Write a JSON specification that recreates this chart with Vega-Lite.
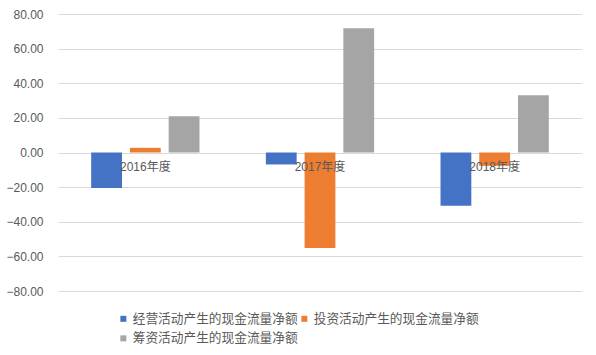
{
  "$schema": "https://vega.github.io/schema/vega-lite/v6.json",
  "width": 524,
  "height": 277,
  "autosize": {"type": "none"},
  "padding": {"left": 58, "top": 14, "right": 14, "bottom": 64},
  "background": "white",
  "config": {
    "view": {"stroke": null},
    "font": "Liberation Sans, Noto Sans CJK SC"
  },
  "data": {
    "values": [
      {"year": "2016年度", "series": "经营活动产生的现金流量净额", "value": -20.5},
      {"year": "2016年度", "series": "投资活动产生的现金流量净额", "value": 2.7},
      {"year": "2016年度", "series": "筹资活动产生的现金流量净额", "value": 20.9},
      {"year": "2017年度", "series": "经营活动产生的现金流量净额", "value": -6.9},
      {"year": "2017年度", "series": "投资活动产生的现金流量净额", "value": -55.1},
      {"year": "2017年度", "series": "筹资活动产生的现金流量净额", "value": 71.8},
      {"year": "2018年度", "series": "经营活动产生的现金流量净额", "value": -30.8},
      {"year": "2018年度", "series": "投资活动产生的现金流量净额", "value": -7.7},
      {"year": "2018年度", "series": "筹资活动产生的现金流量净额", "value": 33.1}
    ]
  },
  "mark": {"type": "bar"},
  "encoding": {
    "x": {
      "field": "year",
      "type": "nominal",
      "sort": null,
      "scale": {"paddingInner": 0.38, "paddingOuter": 0.19},
      "axis": {
        "title": null,
        "labelAngle": 0,
        "domain": false,
        "ticks": false,
        "offset": -138.5,
        "labelPadding": 9,
        "labelFontSize": 12,
        "labelColor": "#595959",
        "zindex": 1
      }
    },
    "xOffset": {
      "field": "series",
      "type": "nominal",
      "sort": ["经营活动产生的现金流量净额", "投资活动产生的现金流量净额", "筹资活动产生的现金流量净额"],
      "scale": {"paddingInner": 0.205, "paddingOuter": 0}
    },
    "y": {
      "field": "value",
      "type": "quantitative",
      "scale": {"domain": [-80, 80], "nice": false},
      "axis": {
        "title": null,
        "values": [-80, -60, -40, -20, 0, 20, 40, 60, 80],
        "format": ".2f",
        "domain": false,
        "ticks": false,
        "labelPadding": 15,
        "labelFontSize": 12,
        "labelColor": "#595959",
        "gridColor": "#d9d9d9",
        "gridWidth": 1
      }
    },
    "color": {
      "field": "series",
      "type": "nominal",
      "scale": {
        "domain": ["经营活动产生的现金流量净额", "投资活动产生的现金流量净额", "筹资活动产生的现金流量净额"],
        "range": ["#4472C4", "#ED7D31", "#A5A5A5"]
      },
      "legend": {
        "title": null,
        "orient": "none",
        "legendX": 59,
        "legendY": 298,
        "direction": "horizontal",
        "columns": 2,
        "columnPadding": -2,
        "rowPadding": 6,
        "symbolType": "square",
        "symbolSize": 36,
        "symbolStrokeWidth": 0,
        "labelFontSize": 12.7,
        "labelColor": "#595959",
        "labelOffset": 3,
        "labelLimit": 300
      }
    }
  }
}
